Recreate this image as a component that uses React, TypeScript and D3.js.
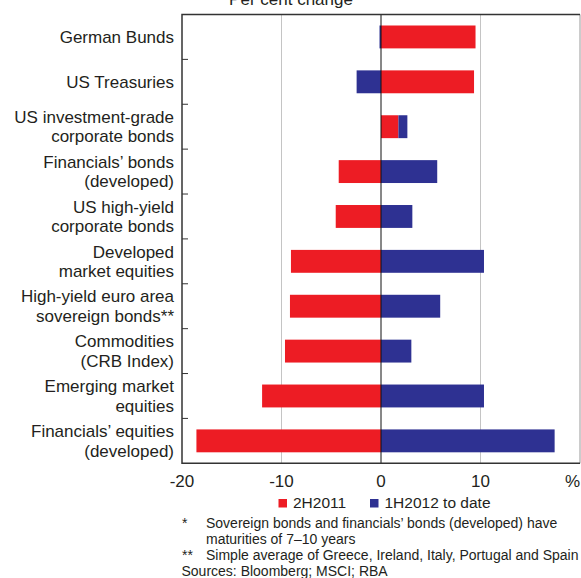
import * as d3 from "d3";
import React, { useEffect, useRef } from "react";

const categories = [
  "German Bunds",
  "US Treasuries",
  "US investment-grade\ncorporate bonds",
  "Financials’ bonds\n(developed)",
  "US high-yield\ncorporate bonds",
  "Developed\nmarket equities",
  "High-yield euro area\nsovereign bonds**",
  "Commodities\n(CRB Index)",
  "Emerging market\nequities",
  "Financials’ equities\n(developed)",
];
const h2011 = [9.5, 9.35, 1.75, -4.25, -4.55, -9.05, -9.15, -9.65, -11.95, -18.55];
const h2012 = [-0.15, -2.45, 0.9, 5.65, 3.15, 10.35, 5.95, 3.05, 10.35, 17.45];
const xTicks = [-20, -10, 0, 10];
const gridTicks = [-10, 10];
const seriesNames = ["2H2011", "1H2012 to date"];
const colors = ["#ED1C24", "#2E3192"];
const footnotes = [
  ["*", "Sovereign bonds and financials’ bonds (developed) have"],
  ["", "maturities of 7–10 years"],
  ["**", "Simple average of Greece, Ireland, Italy, Portugal and Spain"],
];
const sources = "Sources: Bloomberg; MSCI; RBA";

const W = 581;
const H = 578;
const font = "'Liberation Sans', Arial, sans-serif";

const App = () => {
  const ref = useRef<HTMLDivElement>(null);

  useEffect(() => {
    const left = 182, right = 580, top = 14.5, bottom = 463.3;
    const x = d3.scaleLinear().domain([-20, 20]).range([left, right]);
    const y = d3.scaleBand().domain(categories).range([top, bottom])
      .paddingInner(0.49).paddingOuter(0.245);

    const rows = categories.map((c, i) => ({ cat: c, a: h2011[i], b: h2012[i] }));
    const stacked = d3.stack<any>().keys(["a", "b"]).offset(d3.stackOffsetDiverging)(rows);

    const svg = d3.create("svg")
      .attr("width", W)
      .attr("height", H)
      .style("position", "absolute")
      .style("left", "0px")
      .style("top", "0px")
      .style("font-family", font);

    // gridlines
    svg.append("g").selectAll("line").data(gridTicks).join("line")
      .attr("x1", d => x(d)).attr("x2", d => x(d))
      .attr("y1", top).attr("y2", bottom)
      .attr("stroke", "#c4c4c4").attr("stroke-width", 1);

    // bars
    stacked.forEach((s, k) => {
      svg.append("g").attr("fill", colors[k])
        .selectAll("rect").data(s).join("rect")
        .attr("x", d => x(Math.min(d[0], d[1])))
        .attr("width", d => Math.abs(x(d[1]) - x(d[0])))
        .attr("y", d => y(d.data.cat) as number)
        .attr("height", y.bandwidth());
    });

    // zero line
    svg.append("line")
      .attr("x1", x(0)).attr("x2", x(0))
      .attr("y1", top).attr("y2", bottom)
      .attr("stroke", "#111").attr("stroke-width", 1);

    // frame
    svg.append("line").attr("x1", right).attr("x2", right).attr("y1", top).attr("y2", bottom)
      .attr("stroke", "#999").attr("stroke-width", 1);
    svg.append("path")
      .attr("d", `M${right},${top}H${left}V${bottom}H${right}`)
      .attr("fill", "none").attr("stroke", "#333").attr("stroke-width", 1.5);

    // left ticks at band boundaries
    const step = y.step();
    const bounds = d3.range(1, categories.length).map(i => top + i * step);
    svg.append("g").selectAll("line").data(bounds).join("line")
      .attr("x1", left).attr("x2", left + 6)
      .attr("y1", d => d).attr("y2", d => d)
      .attr("stroke", "#333").attr("stroke-width", 1);

    // category labels
    const lab = svg.append("g").attr("font-size", 17).attr("fill", "#231f20").attr("text-anchor", "end");
    categories.forEach(c => {
      const lines = c.split("\n");
      const cy = (y(c) as number) + y.bandwidth() / 2;
      const t = lab.append("text").attr("x", 174);
      lines.forEach((ln, i) => {
        t.append("tspan")
          .attr("x", 174)
          .attr("y", cy + 6 + (i - (lines.length - 1) / 2) * 19.5)
          .text(ln);
      });
    });

    // x tick labels
    svg.append("g").attr("font-size", 17).attr("fill", "#231f20").attr("text-anchor", "middle")
      .selectAll("text").data(xTicks).join("text")
      .attr("x", d => x(d)).attr("y", 487)
      .text(d => String(d));
    svg.append("text").attr("x", 580).attr("y", 487).attr("text-anchor", "end")
      .attr("font-size", 17).attr("fill", "#231f20").text("%");

    // title (clipped at the top edge, as in the source)
    svg.append("text").attr("x", 291).attr("y", 4.5).attr("text-anchor", "middle")
      .attr("font-size", 17).attr("fill", "#231f20").text("Per cent change");

    // legend
    const legX = [278.5, 370];
    seriesNames.forEach((n, i) => {
      svg.append("rect").attr("x", legX[i]).attr("y", 499).attr("width", 8.5).attr("height", 8.5)
        .attr("fill", colors[i]);
      svg.append("text").attr("x", legX[i] + 14.5).attr("y", 508.3)
        .attr("font-size", 15.5).attr("fill", "#231f20").text(n);
    });

    // footnotes
    const fn = svg.append("g").attr("font-size", 14).attr("fill", "#231f20");
    footnotes.forEach((f, i) => {
      const yy = 528 + i * 15.8;
      if (f[0]) fn.append("text").attr("x", 182).attr("y", yy).text(f[0]);
      fn.append("text").attr("x", 206).attr("y", yy).text(f[1]);
    });
    fn.append("text").attr("x", 181.5).attr("y", 575.5).text(sources);

    if (ref.current) {
      ref.current.innerHTML = "";
      ref.current.appendChild(svg.node() as SVGSVGElement);
    }
  }, []);

  return <div ref={ref}></div>;
};

export default App;
